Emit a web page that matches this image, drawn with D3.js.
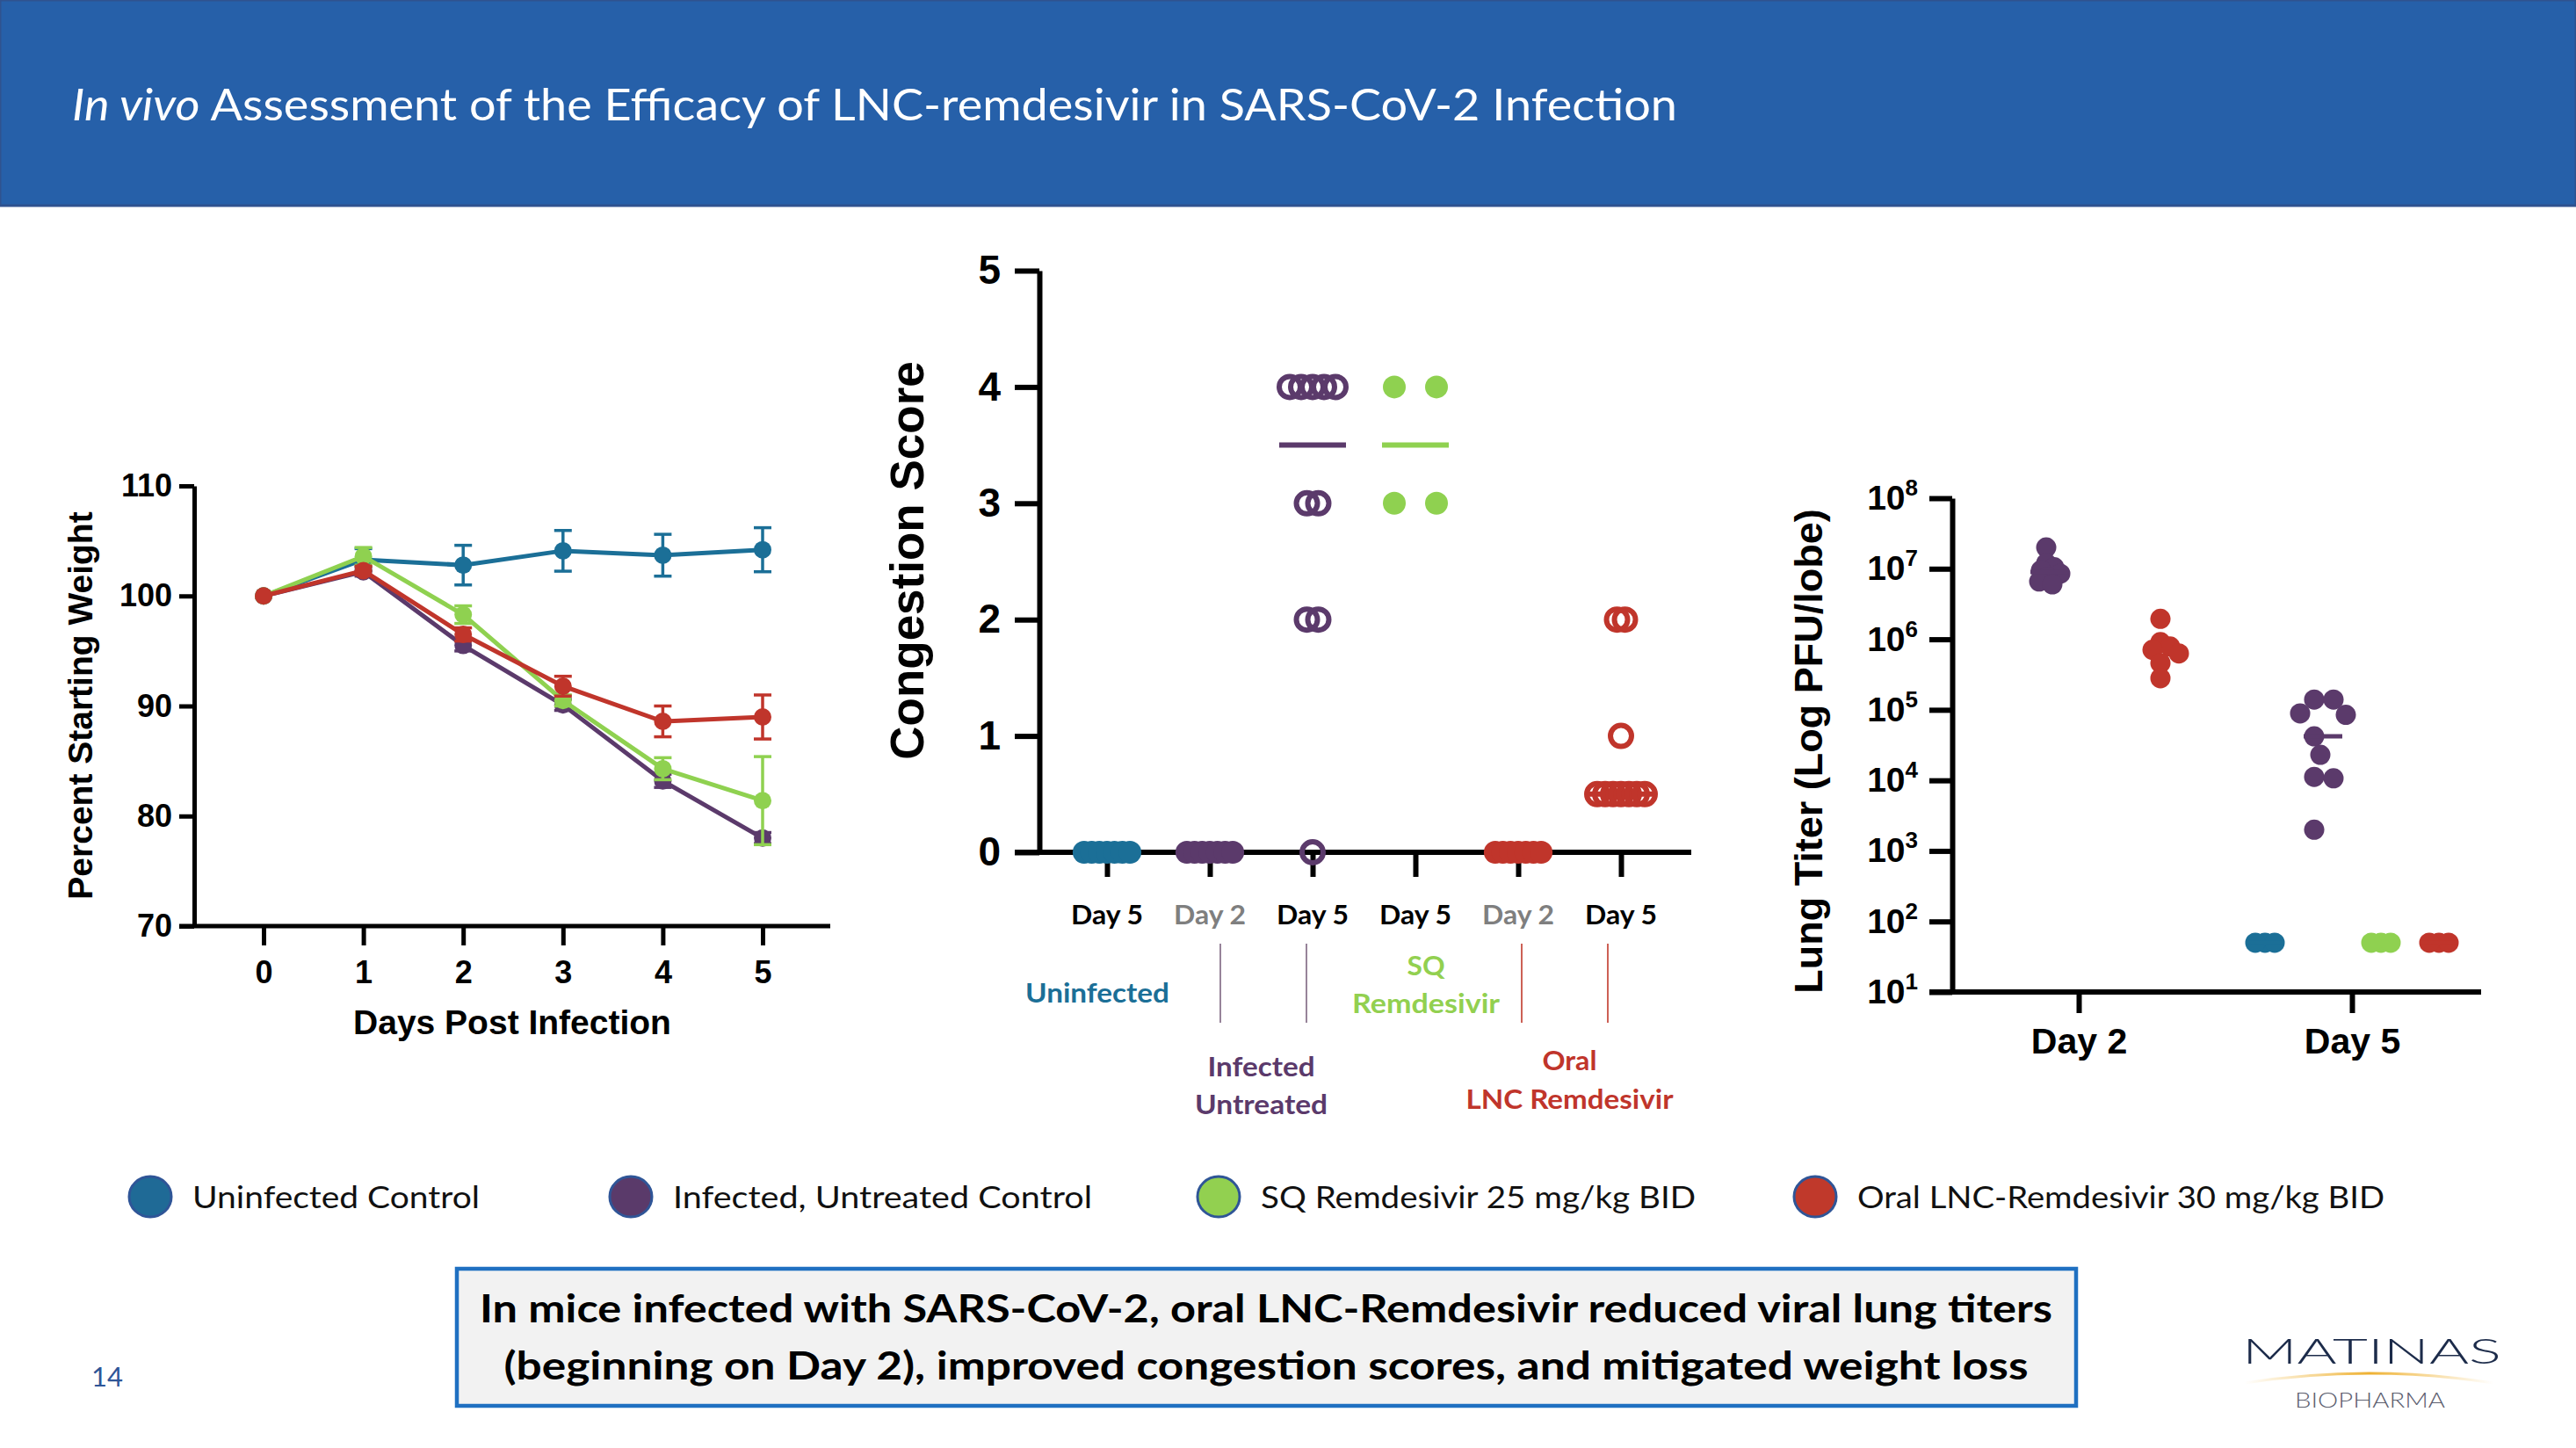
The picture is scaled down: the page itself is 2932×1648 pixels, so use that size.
<!DOCTYPE html>
<html>
<head>
<meta charset="utf-8">
<style>
  body { margin: 0; background: #ffffff; }
  svg { display: block; }
  .chart text { font-family: 'Liberation Sans', Arial, sans-serif; font-weight: bold; fill: #000; }
  .chart .domain, .chart .tick line { stroke: #000; }
  .cal { font-family: Lato, 'Open Sans', sans-serif; }
</style>
</head>
<body>
<svg id="slide" width="2932" height="1648"></svg>

<script src="https://d3js.org/d3.v7.min.js"></script>
<script>
// ---------- data ----------
const days = [0, 1, 2, 3, 4, 5];
const weightTicks = [70, 80, 90, 100, 110];
const weightUninfected    = [100, 103.3, 102.8, 104.1, 103.7, 104.2];
const weightUninfectedErr = [0, 1.0, 1.8, 1.85, 1.9, 2.0];
const weightInfected      = [100, 102.2, 95.5, 90.1, 83.2, 78.0];
const weightInfectedErr   = [0, 0.4, 0.5, 0.5, 0.6, 0.5];
const weightSQ            = [100, 103.6, 98.3, 90.5, 84.3, 81.4];
const weightSQErr         = [0, 0.8, 0.8, 0.5, 1.0, 4.0];
const weightOral          = [100, 102.3, 96.5, 91.8, 88.6, 89.0];
const weightOralErr       = [0, 0.4, 0.6, 0.9, 1.4, 2.0];

const congestionGroups = ["Uninfected D5", "Infected D2", "Infected D5", "SQ D5", "Oral D2", "Oral D5"];
const congestionDays   = ["Day 5", "Day 2", "Day 5", "Day 5", "Day 2", "Day 5"];
const congestionArms   = ["uninfected", "infected", "infected", "sq", "oral", "oral"];
const congestionScores = [
  [0, 0, 0, 0, 0, 0, 0],
  [0, 0, 0, 0, 0, 0, 0],
  [4, 4, 4, 4, 4, 3, 3, 2, 2, 0],
  [4, 4, 3, 3],
  [0, 0, 0, 0, 0, 0, 0],
  [2, 2, 1, 0.5, 0.5, 0.5, 0.5, 0.5, 0.5, 0.5]
];
const congestionTicks = [0, 1, 2, 3, 4, 5];

const titerDays = ["Day 2", "Day 5"];
const titerTicks = [1e1, 1e2, 1e3, 1e4, 1e5, 1e6, 1e7, 1e8];
const titerInfectedD2   = [2.0e7, 1.2e7, 1.05e7, 9.5e6, 8.5e6, 7.6e6, 6.6e6, 6.0e6];
const titerOralD2       = [1.95e6, 9.1e5, 7.9e5, 7.1e5, 6.3e5, 4.6e5, 2.8e5];
const titerUninfectedD5 = [50, 50, 50];
const titerInfectedD5   = [1.4e5, 1.4e5, 8.9e4, 8.5e4, 4.2e4, 2.3e4, 1.12e4, 1.07e4, 2.0e3];
const titerSQD5         = [50, 50, 50];
const titerOralD5       = [50, 50, 50];

const arms = ["uninfected", "infected", "sq", "oral"];
const armNames = ["Uninfected Control", "Infected, Untreated Control", "SQ Remdesivir 25 mg/kg BID", "Oral LNC-Remdesivir 30 mg/kg BID"];

// ---------- look ----------
const color = { uninfected: "#1b6f97", infected: "#5b3a6b", sq: "#8fd150", oral: "#c0352b" };
const legendFill = { uninfected: "#1f6a96", infected: "#5a3a6a", sq: "#92d050", oral: "#c0392b" };

const svg = d3.select("#slide");
svg.append("rect").attr("width", 2932).attr("height", 1648).attr("fill", "#fff");

// ---------- header ----------
svg.append("rect")
  .attr("x", 0).attr("y", 0).attr("width", 2932).attr("height", 234)
  .attr("fill", "#2660a9").attr("stroke", "#2f528f").attr("stroke-width", 3);

const title = svg.append("text").attr("class", "cal")
  .attr("x", 82).attr("y", 137)
  .attr("font-size", 51).attr("fill", "#fff")
  .attr("textLength", 1827).attr("lengthAdjust", "spacingAndGlyphs");
title.append("tspan").attr("font-style", "italic").text("In vivo");
title.append("tspan").text(" Assessment of the Efficacy of LNC-remdesivir in SARS-CoV-2 Infection");

// ---------- weight chart ----------
const weightTable = arms.map((a, i) => ({
  arm: a,
  values: [weightUninfected, weightInfected, weightSQ, weightOral][i],
  errs: [weightUninfectedErr, weightInfectedErr, weightSQErr, weightOralErr][i]
}));

const wx = d3.scaleLinear().domain([0, 5]).range([300, 868]);
const wy = d3.scaleLinear().domain([70, 110]).range([1054, 553]);

const gW = svg.append("g").attr("class", "chart");

gW.append("g")
  .attr("transform", "translate(221,0)")
  .call(d3.axisLeft(wy).tickValues(weightTicks).tickSize(17).tickSizeOuter(0).tickPadding(8))
  .call(g => g.selectAll("text").attr("font-size", 36))
  .call(g => g.selectAll(".domain, .tick line").attr("stroke-width", 5));

gW.append("g")
  .attr("transform", "translate(0,1054)")
  .call(d3.axisBottom(wx).tickValues(days).tickFormat(d3.format("d")).tickSize(22).tickSizeOuter(0).tickPadding(17))
  .call(g => g.select(".domain").remove())
  .call(g => g.selectAll("text").attr("font-size", 36))
  .call(g => g.selectAll(".tick line").attr("stroke-width", 5));

gW.append("line")
  .attr("x1", 204).attr("x2", 945).attr("y1", 1054).attr("y2", 1054)
  .attr("stroke", "#000").attr("stroke-width", 5);

gW.append("text")
  .attr("x", 583).attr("y", 1177).attr("text-anchor", "middle").attr("font-size", 39)
  .text("Days Post Infection");
gW.append("text")
  .attr("transform", "translate(105,803) rotate(-90)")
  .attr("text-anchor", "middle").attr("font-size", 39)
  .text("Percent Starting Weight");

const wLine = d3.line().x((d, i) => wx(days[i])).y(d => wy(d));

const series = gW.selectAll("g.series")
  .data(weightTable)
  .join("g")
  .attr("class", "series");

series.append("path")
  .attr("d", d => wLine(d.values))
  .attr("fill", "none")
  .attr("stroke", d => color[d.arm])
  .attr("stroke-width", 5);

series.each(function (d) {
  const g = d3.select(this);
  const pts = d.values.map((v, i) => ({ day: days[i], v: v, e: d.errs[i] }));
  const bars = g.selectAll("g.err").data(pts.filter(p => p.e > 0)).join("g").attr("class", "err")
    .attr("stroke", color[d.arm]).attr("stroke-width", 3.5);
  bars.append("line")
    .attr("x1", p => wx(p.day)).attr("x2", p => wx(p.day))
    .attr("y1", p => wy(p.v - p.e)).attr("y2", p => wy(p.v + p.e));
  bars.append("line")
    .attr("x1", p => wx(p.day) - 10).attr("x2", p => wx(p.day) + 10)
    .attr("y1", p => wy(p.v + p.e)).attr("y2", p => wy(p.v + p.e));
  bars.append("line")
    .attr("x1", p => wx(p.day) - 10).attr("x2", p => wx(p.day) + 10)
    .attr("y1", p => wy(p.v - p.e)).attr("y2", p => wy(p.v - p.e));
  g.selectAll("circle").data(pts).join("circle")
    .attr("cx", p => wx(p.day)).attr("cy", p => wy(p.v)).attr("r", 10)
    .attr("fill", color[d.arm]);
});

// ---------- congestion chart ----------
const cx = d3.scalePoint().domain(congestionGroups).range([1260, 1845]);
const cy = d3.scaleLinear().domain([0, 5]).range([970, 308]);
const rowStep = [8.7, 8.7, 13, 48, 8.7, 9];
const hollowGroups = ["Infected D5", "Oral D5"];

const gC = svg.append("g").attr("class", "chart");

gC.append("g")
  .attr("transform", "translate(1183,0)")
  .call(d3.axisLeft(cy).tickValues(congestionTicks).tickFormat(d3.format("d")).tickSize(28).tickSizeOuter(0).tickPadding(16))
  .call(g => g.selectAll("text").attr("font-size", 46))
  .call(g => g.selectAll(".domain, .tick line").attr("stroke-width", 6));

gC.append("g")
  .attr("transform", "translate(0,970)")
  .call(d3.axisBottom(cx).tickSize(28).tickSizeOuter(0).tickFormat(""))
  .call(g => g.select(".domain").remove())
  .call(g => g.selectAll(".tick line").attr("stroke-width", 6));

gC.append("line")
  .attr("x1", 1155).attr("x2", 1925).attr("y1", 970).attr("y2", 970)
  .attr("stroke", "#000").attr("stroke-width", 6);

gC.append("text")
  .attr("transform", "translate(1051,638) rotate(-90)")
  .attr("text-anchor", "middle").attr("font-size", 53)
  .text("Congestion Score");

// median bars
congestionGroups.forEach((grp, i) => {
  const m = d3.median(congestionScores[i]);
  gC.append("line")
    .attr("x1", cx(grp) - 38).attr("x2", cx(grp) + 38)
    .attr("y1", cy(m)).attr("y2", cy(m))
    .attr("stroke", color[congestionArms[i]]).attr("stroke-width", 6);
});

// points, spread sideways inside each score row
congestionGroups.forEach((grp, i) => {
  const arm = congestionArms[i];
  const hollow = hollowGroups.includes(grp);
  const rows = d3.groups(congestionScores[i], v => v);
  const pts = [];
  rows.forEach(([v, list]) => {
    list.forEach((_, k) => pts.push({ v: v, dx: (k - (list.length - 1) / 2) * rowStep[i] }));
  });
  gC.append("g").selectAll("circle").data(pts).join("circle")
    .attr("cx", p => cx(grp) + p.dx)
    .attr("cy", p => cy(p.v))
    .attr("r", hollow ? 12 : 13)
    .attr("fill", hollow ? "none" : color[arm])
    .attr("stroke", hollow ? color[arm] : "none")
    .attr("stroke-width", 6);
});

// category labels under the axis
const dayLabels = svg.append("g").attr("class", "cal").attr("font-weight", "bold");
congestionGroups.forEach((grp, i) => {
  dayLabels.append("text")
    .attr("x", cx(grp)).attr("y", 1052).attr("text-anchor", "middle")
    .attr("font-size", 31)
    .attr("fill", congestionDays[i] === "Day 2" ? "#7f7f7f" : "#000")
    .attr("textLength", 82).attr("lengthAdjust", "spacingAndGlyphs")
    .text(congestionDays[i]);
});

const groupLabels = [
  { lines: ["Uninfected"], arm: "uninfected", x: cx(congestionGroups[0]) - 11, y: [1141], w: [164] },
  { lines: ["Infected", "Untreated"], arm: "infected", x: (cx(congestionGroups[1]) + cx(congestionGroups[2])) / 2, y: [1225, 1268], w: [122, 151] },
  { lines: ["SQ", "Remdesivir"], arm: "sq", x: cx(congestionGroups[3]) + 12, y: [1110, 1153], w: [43, 168] },
  { lines: ["Oral", "LNC Remdesivir"], arm: "oral", x: (cx(congestionGroups[4]) + cx(congestionGroups[5])) / 2, y: [1218, 1262], w: [62, 236] }
];
groupLabels.forEach(l => {
  l.lines.forEach((t, k) => {
    dayLabels.append("text")
      .attr("x", l.x).attr("y", l.y[k]).attr("text-anchor", "middle")
      .attr("font-size", 31).attr("fill", l.arm === "sq" ? "#92d050" : color[l.arm])
      .attr("textLength", l.w[k]).attr("lengthAdjust", "spacingAndGlyphs")
      .text(t);
  });
});

const dividerShift = [12, -7, 4, -15];
[1, 2, 4, 5].forEach((gi, k) => {
  const x = cx(congestionGroups[gi]) + dividerShift[k];
  svg.append("line")
    .attr("x1", x).attr("x2", x).attr("y1", 1074).attr("y2", 1164)
    .attr("stroke", gi < 3 ? "#7d6580" : "#c0392b").attr("stroke-width", 1.6);
});

// ---------- lung titer chart ----------
const titerTable = [
  { day: "Day 2", arm: "infected", values: titerInfectedD2 },
  { day: "Day 2", arm: "oral", values: titerOralD2 },
  { day: "Day 5", arm: "uninfected", values: titerUninfectedD5 },
  { day: "Day 5", arm: "infected", values: titerInfectedD5 },
  { day: "Day 5", arm: "sq", values: titerSQD5 },
  { day: "Day 5", arm: "oral", values: titerOralD5 }
];
const swarmGap = [10, 12, 11, 22, 11, 11];

const tx = d3.scalePoint().domain(titerDays).range([2366, 2677]);
const slot = d3.scalePoint().domain(arms).range([-99, 99]);
const ty = d3.scaleLog().domain([1e1, 1e8]).range([1129, 567]);

const gT = svg.append("g").attr("class", "chart");

gT.append("g")
  .attr("transform", "translate(2222,0)")
  .call(d3.axisLeft(ty).tickValues(titerTicks).tickSize(26).tickSizeOuter(0).tickPadding(13).tickFormat(""))
  .call(g => g.selectAll(".domain, .tick line").attr("stroke-width", 6))
  .call(g => g.selectAll(".tick text").each(function (d) {
    const t = d3.select(this).attr("font-size", 39);
    t.append("tspan").text("10");
    t.append("tspan").attr("font-size", 26).attr("dy", -16).text(Math.round(Math.log10(d)));
  }));

gT.append("g")
  .attr("transform", "translate(0,1129)")
  .call(d3.axisBottom(tx).tickSize(24).tickSizeOuter(0).tickPadding(17))
  .call(g => g.select(".domain").remove())
  .call(g => g.selectAll("text").attr("font-size", 41))
  .call(g => g.selectAll(".tick line").attr("stroke-width", 6));

gT.append("line")
  .attr("x1", 2196).attr("x2", 2824).attr("y1", 1129).attr("y2", 1129)
  .attr("stroke", "#000").attr("stroke-width", 6);

gT.append("text")
  .attr("transform", "translate(2074,855) rotate(-90)")
  .attr("text-anchor", "middle").attr("font-size", 45)
  .text("Lung Titer (Log PFU/lobe)");

// simple beeswarm so overlapping animals are pushed sideways
function swarm(values, minDist) {
  const placed = [];
  values.map(v => ({ v: v, y: ty(v) }))
    .sort((a, b) => a.y - b.y)
    .forEach(p => {
      for (let k = 0; k < 400; k++) {
        const dx = k === 0 ? 0 : (k % 2 ? 1 : -1) * Math.ceil(k / 2);
        const hit = placed.some(q => (q.dx - dx) ** 2 + (q.y - p.y) ** 2 < minDist * minDist);
        if (!hit) { p.dx = dx; placed.push(p); break; }
      }
    });
  return placed;
}

titerTable.forEach((grp, i) => {
  const x0 = tx(grp.day) + slot(grp.arm);
  const pts = swarm(grp.values, swarmGap[i]);
  const shift = -(d3.min(pts, p => p.dx) + d3.max(pts, p => p.dx)) / 2;
  gT.append("g").selectAll("circle").data(pts).join("circle")
    .attr("cx", p => x0 + p.dx + shift).attr("cy", p => p.y).attr("r", 11.5)
    .attr("fill", color[grp.arm]);
  const m = d3.median(grp.values);
  gT.append("line")
    .attr("x1", x0 - 22).attr("x2", x0 + 22).attr("y1", ty(m)).attr("y2", ty(m))
    .attr("stroke", color[grp.arm]).attr("stroke-width", 5);
});

// ---------- legend ----------
const legendX = [171, 718, 1387, 2066];
const legendW = [327, 477, 495, 600];
const legend = svg.append("g").attr("class", "cal");
arms.forEach((a, i) => {
  legend.append("ellipse")
    .attr("cx", legendX[i]).attr("cy", 1362).attr("rx", 24).attr("ry", 23)
    .attr("fill", legendFill[a]).attr("stroke", "#2f5597").attr("stroke-width", 3);
  legend.append("text")
    .attr("x", legendX[i] + 48).attr("y", 1375)
    .attr("font-size", 35).attr("fill", "#111")
    .attr("textLength", legendW[i]).attr("lengthAdjust", "spacingAndGlyphs")
    .text(armNames[i]);
});

// ---------- conclusion box ----------
svg.append("rect")
  .attr("x", 520).attr("y", 1444).attr("width", 1843).attr("height", 156)
  .attr("fill", "#f2f2f2").attr("stroke", "#1f70c1").attr("stroke-width", 4.5);

const summary = [
  { t: "In mice infected with SARS-CoV-2, oral LNC-Remdesivir reduced viral lung titers", y: 1505, w: 1790 },
  { t: "(beginning on Day 2), improved congestion scores, and mitigated weight loss", y: 1570, w: 1735 }
];
summary.forEach(s => {
  svg.append("text").attr("class", "cal")
    .attr("x", 1441).attr("y", s.y).attr("text-anchor", "middle")
    .attr("font-size", 44).attr("font-weight", "bold").attr("fill", "#000")
    .attr("textLength", s.w).attr("lengthAdjust", "spacingAndGlyphs")
    .text(s.t);
});

// page number
svg.append("text").attr("class", "cal")
  .attr("x", 104).attr("y", 1578).attr("font-size", 31).attr("fill", "#2f5597")
  .text("14");

// ---------- logo ----------
const defs = svg.append("defs");
const grad = defs.append("linearGradient").attr("id", "arcGold");
grad.append("stop").attr("offset", "0%").attr("stop-color", "#f3c25a").attr("stop-opacity", 0);
grad.append("stop").attr("offset", "50%").attr("stop-color", "#eeb030").attr("stop-opacity", 1);
grad.append("stop").attr("offset", "100%").attr("stop-color", "#f3c25a").attr("stop-opacity", 0);

svg.append("text").attr("class", "cal")
  .attr("x", 2552).attr("y", 1552).attr("font-size", 40).attr("font-weight", 300)
  .attr("fill", "#1c2b4a")
  .attr("textLength", 295).attr("lengthAdjust", "spacingAndGlyphs")
  .text("MATINAS");
svg.append("path")
  .attr("d", "M2555,1574 Q2696,1552 2838,1574")
  .attr("fill", "none").attr("stroke", "url(#arcGold)").attr("stroke-width", 3);
svg.append("text").attr("class", "cal")
  .attr("x", 2612).attr("y", 1602).attr("font-size", 23).attr("font-weight", 300)
  .attr("fill", "#5d6070")
  .attr("textLength", 171).attr("lengthAdjust", "spacingAndGlyphs")
  .text("BIOPHARMA");
</script>
</body>
</html>
